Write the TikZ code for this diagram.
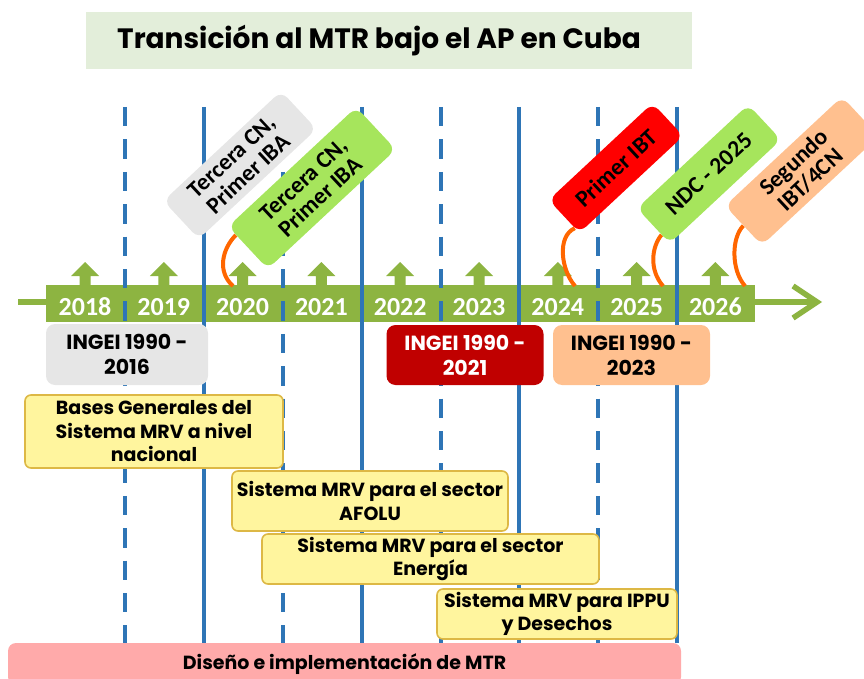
\documentclass[tikz,border=0pt]{standalone}
\usepackage{fontspec}
\setmainfont{Poppins}
\newfontfamily\tagfont{Carlito}
\usetikzlibrary{arrows.meta,calc}
\definecolor{titlebg}{HTML}{E3EEDA}
\definecolor{bargreen}{HTML}{8DB441}
\definecolor{lineblue}{HTML}{2E75B6}
\definecolor{taggray}{HTML}{E6E6E6}
\definecolor{taglime}{HTML}{A6E55C}
\definecolor{tagred}{HTML}{FF0000}
\definecolor{tagpeach}{HTML}{FFC08F}
\definecolor{linkorange}{HTML}{FF6600}
\definecolor{ingeired}{HTML}{C00000}
\definecolor{yfill}{HTML}{FFF59E}
\definecolor{ygold}{HTML}{DDB845}
\definecolor{pinkfill}{HTML}{FFAAAA}
\pgfdeclarelayer{back}
\pgfdeclarelayer{mid}
\pgfsetlayers{back,mid,main}
\begin{document}
\begin{tikzpicture}[x=1pt,y=-1pt,
  vline/.style={line width=3.2pt, draw=lineblue},
  dline/.style={vline, dash pattern=on 19.4pt off 13pt},
  tagbox/.style={rotate=43, rounded corners=9pt, inner sep=0pt, align=center, text=black,
    font=\tagfont\bfseries\fontsize{23.5}{24}\selectfont},
  ingei/.style={rounded corners=9pt, minimum width=157pt, minimum height=60pt, inner sep=0pt,
    align=center, font=\bfseries\fontsize{20.5}{25}\selectfont},
  ybox/.style={draw=ygold, fill=yfill, line width=1.6pt, rounded corners=6pt, inner sep=0pt,
    align=center, font=\bfseries\fontsize{19}{23.5}\selectfont},
  year/.style={text=white, font=\tagfont\bfseries\fontsize{26}{26}\selectfont, anchor=base},
  link/.style={draw=linkorange, line width=4pt},
]
\useasboundingbox (0,0) rectangle (864,679);

% title
\node[fill=titlebg, minimum width=606pt, minimum height=57pt, inner sep=0pt] (titlebox) at (389,40.5) {};
\node[anchor=west, inner sep=0pt, font=\bfseries\fontsize{28}{30}\selectfont] (title) at (117,41) {Transición al MTR bajo el AP en Cuba};

\begin{pgfonlayer}{back}
% main axis line and arrow
\coordinate (axstart) at (18,302);
\coordinate (axend) at (822,302);
\draw[bargreen, line width=5.5pt, -{Straight Barb[length=24pt,width=32pt]}] (axstart) -- (axend);
\fill[bargreen] (46,285) rectangle (755,322);
% year arrows and labels
\foreach \yr [count=\i from 0] in {2018,...,2026} {
  \pgfmathsetmacro\cx{85+78.8*\i}
  \fill[bargreen] (\cx-5.5,286) -- (\cx-5.5,276) -- (\cx-14,276) -- (\cx,262) -- (\cx+14,276) -- (\cx+5.5,276) -- (\cx+5.5,286) -- cycle;
  \node[year] (y\yr) at (\cx,315) {\yr};
}
% vertical lines
\foreach \x in {125,283,441,598} \draw[dline] (\x,107) -- (\x,643);
\foreach \x in {204,362,519,677} \draw[vline] (\x,107) -- (\x,643);
\end{pgfonlayer}

% tags
\node[tagbox, fill=taggray, minimum width=161pt, minimum height=52pt] (tcgray) at (240,165) {Tercera CN,\\Primer IBA};
\node[tagbox, fill=taglime, minimum width=175pt, minimum height=58pt] (tcgreen) at (312,188) {Tercera CN,\\Primer IBA};
\node[tagbox, fill=tagred, minimum width=142pt, minimum height=45pt] (ibt) at (616,168) {Primer IBT};
\node[tagbox, fill=taglime, minimum width=152pt, minimum height=48pt] (ndc) at (709,174) {NDC - 2025};
\node[tagbox, fill=tagpeach, minimum width=160pt, minimum height=54pt] (seg) at (802,171) {Segundo\\IBT/4CN};

% links
\coordinate (l20) at (233,286);
\coordinate (l24) at (575,286);
\coordinate (l25) at (663,286);
\coordinate (l26) at (745,286);
\begin{pgfonlayer}{mid}
\draw[link] ($(tcgreen.west)!0.6!(tcgreen.north west)$) .. controls +(-14,14) and +(-16,-14) .. (l20);
\draw[link] ($(ibt.west)!0.7!(ibt.south west)$) .. controls +(-18,8) and +(-14,-16) .. (l24);
\draw[link] ($(ndc.west)!0.5!(ndc.south west)$) .. controls +(-10,12) and +(-14,-16) .. (l25);
\draw[link] (seg.west) .. controls +(-12,12) and +(-14,-16) .. (l26);
\end{pgfonlayer}

% INGEI boxes
\node[ingei, fill=taggray, minimum width=162pt, minimum height=61pt] (ing16) at (127,354.5) {INGEI 1990 -\\2016};
\node[ingei, fill=ingeired, text=white] (ing21) at (465,355) {INGEI 1990 -\\2021};
\node[ingei, fill=tagpeach] (ing23) at (631.5,355) {INGEI 1990 -\\2023};

% MRV boxes
\node[ybox, minimum width=258pt, minimum height=73pt] (bases) at (154,431.5) {Bases Generales del\\Sistema MRV a nivel\\nacional};
\node[ybox, minimum width=276pt, minimum height=60pt] (afolu) at (370,501) {Sistema MRV para el sector\\AFOLU};
\node[ybox, minimum width=337pt, minimum height=50pt] (energia) at (430.5,559) {Sistema MRV para el sector\\Energía};
\node[ybox, minimum width=240pt, minimum height=50pt] (ippu) at (557,614) {Sistema MRV para IPPU\\y Desechos};

% MTR bar
\node[fill=pinkfill, rounded corners=8pt, minimum width=673pt, minimum height=42pt, inner sep=0pt,
  font=\bfseries\fontsize{19}{22}\selectfont] (mtr) at (344.5,664) {\raisebox{4pt}{Diseño e implementación de MTR}};
\end{tikzpicture}
\end{document}
